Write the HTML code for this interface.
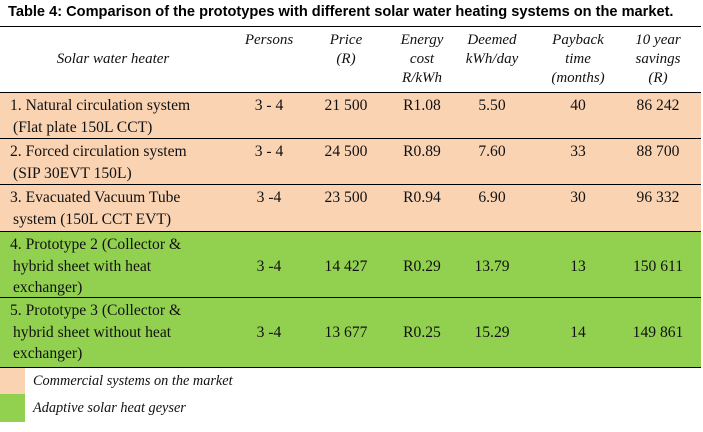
<!DOCTYPE html>
<html><head><meta charset="utf-8"><style>
body{margin:0;width:703px;height:432px;background:#fff;position:relative;overflow:hidden;font-family:"Liberation Serif",serif;}
.a{position:absolute;}
.t{position:absolute;font-size:15.6px;color:#111;white-space:nowrap;line-height:21px;}
.h{font-style:italic;text-align:center;font-size:15px;}
.c{text-align:center;}
.ln{position:absolute;left:0;width:701px;height:1px;background:#000;}
</style></head><body>
<div class="a" style="left:8px;top:4px;font:bold 14.6px 'Liberation Sans',sans-serif;white-space:nowrap;">Table 4: Comparison of the prototypes with different solar water heating systems on the market.</div>
<div class="a" style="left:0;top:92px;width:701px;height:139px;background:#FAD3B3"></div>
<div class="a" style="left:0;top:231px;width:701px;height:136px;background:#92D050"></div>
<div class="ln" style="top:26px"></div><div class="ln" style="top:92px"></div><div class="ln" style="top:138px"></div><div class="ln" style="top:184px"></div><div class="ln" style="top:231px"></div><div class="ln" style="top:297px"></div><div class="ln" style="top:367px"></div>
<div class="a" style="left:0;top:368px;width:25px;height:26px;background:#FAD3B3"></div>
<div class="a" style="left:0;top:394px;width:25px;height:28px;background:#92D050"></div>
<div class="t" style="left:33px;top:371px;font-style:italic;font-size:14.3px">Commercial systems on the market</div>
<div class="t" style="left:33px;top:398px;font-style:italic;font-size:14.3px">Adaptive solar heat geyser</div>
<div id="tbl"></div>
<script>
const cols=[113,269,346,422,492,578,658];
const headers=[["","Solar water heater",""],["Persons","",""],["Price","(R)",""],["Energy","cost","R/kWh"],["Deemed","kWh/day",""],["Payback","time","(months)"],["10 year","savings","(R)"]];
const names=[["1. Natural circulation system","(Flat plate 150L CCT)"],["2. Forced circulation system","(SIP 30EVT 150L)"],["3. Evacuated Vacuum Tube","system (150L CCT EVT)"],["4. Prototype 2 (Collector &","hybrid sheet with heat","exchanger)"],["5. Prototype 3 (Collector &","hybrid sheet without heat","exchanger)"]];
const persons=["3 - 4","3 - 4","3 -4","3 -4","3 -4"];
const prices=["21 500","24 500","23 500","14 427","13 677"];
const energy=["R1.08","R0.89","R0.94","R0.29","R0.25"];
const deemed=["5.50","7.60","6.90","13.79","15.29"];
const payback=["40","33","30","13","14"];
const savings=["86 242","88 700","96 332","150 611","149 861"];
const rowTop=[95,141,187,234,300];
const valTop=[95,141,187,256,322];
const tb=document.getElementById('tbl');
function add(txt,x,y,cls,center,name){const d=document.createElement('div');d.className='t '+cls;d.textContent=txt;


d.style.top=y+'px';if(center){d.style.left=(x-70)+'px';d.style.width='140px';d.style.textAlign='center';}else d.style.left=x+'px';tb.appendChild(d);}
headers.forEach((h,i)=>h.forEach((s,j)=>{if(s)add(s,cols[i],30+j*19,'h',true,'header-cell');}));
names.forEach((n,r)=>n.forEach((s,j)=>add(s,j==0?10:13,rowTop[r]+j*21.5,'',false,'row-label')));
[persons,prices,energy,deemed,payback,savings].forEach((arr,c)=>arr.forEach((v,r)=>add(v,cols[c+1],valTop[r],'c',true,'value-cell')));
</script>
</body></html>
